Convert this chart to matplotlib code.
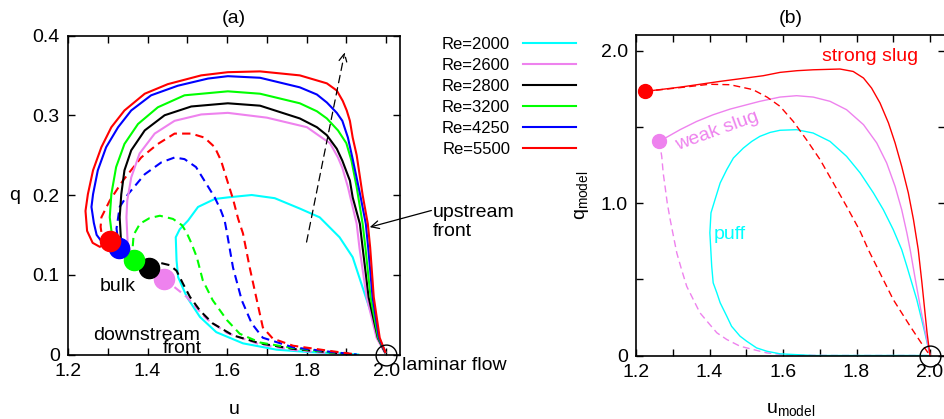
import numpy as np
import matplotlib
matplotlib.use('Agg')
import matplotlib.pyplot as plt
from matplotlib.ticker import MultipleLocator, FuncFormatter

# ---- panel (a): simulation, one solid (upstream) and one dashed (downstream) branch per Re
Re = ['2000', '2600', '2800', '3200', '4250', '5500']
cols = ['#00ffff', '#ee82ee', '#000000', '#00ff00', '#0000ff', '#ff0000']

# Re=2000 puff, single curve
u_2000 = [1.93, 1.90, 1.808, 1.725, 1.64, 1.573, 1.532, 1.499, 1.477, 1.473, 1.471, 1.481, 1.502,
          1.527, 1.569, 1.602, 1.662, 1.72, 1.783, 1.833, 1.883, 1.916, 1.941, 1.963, 1.979, 1.99, 1.998]
q_2000 = [0.0, 0.001, 0.003, 0.006, 0.014, 0.028, 0.047, 0.072, 0.097, 0.118, 0.147, 0.157, 0.168,
          0.185, 0.195, 0.197, 0.200, 0.196, 0.183, 0.172, 0.147, 0.122, 0.084, 0.051, 0.021, 0.011, 0.003]

u_2600 = [1.441, 1.40, 1.365, 1.350, 1.347, 1.349, 1.359, 1.38, 1.418, 1.468, 1.535, 1.602, 1.7,
          1.801, 1.841, 1.859, 1.879, 1.89, 1.904, 1.914, 1.926, 1.933, 1.951, 1.976, 1.996]
q_2600 = [0.095, 0.104, 0.117, 0.140, 0.172, 0.193, 0.222, 0.252, 0.277, 0.293, 0.301, 0.303, 0.297,
          0.285, 0.271, 0.265, 0.247, 0.234, 0.21, 0.189, 0.164, 0.134, 0.072, 0.021, 0.003]
u_2600d = [1.441, 1.469, 1.499, 1.52, 1.55, 1.60, 1.68, 1.76, 1.85, 1.91]
q_2600d = [0.095, 0.084, 0.072, 0.06, 0.044, 0.027, 0.013, 0.006, 0.002, 0.0]

u_2800 = [1.404, 1.37, 1.342, 1.333, 1.33, 1.334, 1.342, 1.359, 1.393, 1.443, 1.51, 1.602, 1.683,
          1.783, 1.826, 1.851, 1.876, 1.89, 1.909, 1.916, 1.934, 1.941, 1.956, 1.979, 1.997]
q_2800 = [0.108, 0.114, 0.125, 0.145, 0.172, 0.201, 0.231, 0.256, 0.281, 0.300, 0.311, 0.315, 0.312,
          0.296, 0.285, 0.275, 0.258, 0.243, 0.218, 0.197, 0.164, 0.134, 0.072, 0.021, 0.003]
u_2800d = [1.404, 1.431, 1.456, 1.473, 1.489, 1.507, 1.532, 1.564, 1.615, 1.683, 1.766, 1.851, 1.92]
q_2800d = [0.108, 0.115, 0.112, 0.105, 0.089, 0.072, 0.055, 0.039, 0.024, 0.014, 0.007, 0.003, 0.0]

u_3200 = [1.366, 1.335, 1.31, 1.305, 1.309, 1.321, 1.342, 1.376, 1.426, 1.493, 1.602, 1.683, 1.783,
          1.826, 1.851, 1.879, 1.9, 1.913, 1.926, 1.941, 1.948, 1.961, 1.980, 1.998]
q_3200 = [0.119, 0.135, 0.152, 0.172, 0.201, 0.235, 0.264, 0.289, 0.310, 0.325, 0.330, 0.327, 0.315,
          0.305, 0.296, 0.281, 0.265, 0.243, 0.21, 0.164, 0.134, 0.072, 0.021, 0.003]
u_3200d = [1.366, 1.362, 1.365, 1.381, 1.405, 1.431, 1.464, 1.487, 1.499, 1.51, 1.524, 1.539, 1.564,
           1.6, 1.632, 1.683, 1.766, 1.89]
q_3200d = [0.119, 0.13, 0.150, 0.164, 0.171, 0.174, 0.170, 0.162, 0.152, 0.14, 0.122, 0.093, 0.068,
           0.043, 0.026, 0.015, 0.008, 0.001]

u_4250 = [1.328, 1.29, 1.272, 1.265, 1.259, 1.263, 1.275, 1.296, 1.326, 1.359, 1.409, 1.476, 1.552,
          1.602, 1.683, 1.783, 1.826, 1.851, 1.876, 1.89, 1.904, 1.916, 1.935, 1.949, 1.955, 1.966,
          1.982, 1.998]
q_4250 = [0.134, 0.138, 0.150, 0.165, 0.185, 0.201, 0.231, 0.260, 0.285, 0.306, 0.325, 0.337, 0.346,
          0.349, 0.347, 0.335, 0.326, 0.316, 0.303, 0.293, 0.272, 0.245, 0.2, 0.164, 0.134, 0.072,
          0.021, 0.003]
u_4250d = [1.328, 1.322, 1.33, 1.351, 1.393, 1.435, 1.468, 1.493, 1.522, 1.543, 1.569, 1.585, 1.594,
           1.6, 1.615, 1.637, 1.662, 1.69, 1.766, 1.866, 1.926]
q_4250d = [0.134, 0.158, 0.185, 0.201, 0.226, 0.241, 0.247, 0.245, 0.235, 0.218, 0.197, 0.180, 0.168,
           0.152, 0.109, 0.068, 0.039, 0.021, 0.009, 0.003, 0.0]

u_5500 = [1.306, 1.28, 1.262, 1.248, 1.244, 1.25, 1.263, 1.284, 1.309, 1.342, 1.393, 1.451, 1.535,
          1.602, 1.683, 1.783, 1.851, 1.876, 1.891, 1.901, 1.909, 1.916, 1.926, 1.941, 1.954, 1.960,
          1.969, 1.984, 1.998]
q_5500 = [0.142, 0.135, 0.140, 0.155, 0.180, 0.201, 0.231, 0.260, 0.285, 0.306, 0.327, 0.339, 0.350,
          0.354, 0.355, 0.350, 0.340, 0.331, 0.318, 0.306, 0.293, 0.272, 0.25, 0.2, 0.164, 0.134,
          0.072, 0.021, 0.003]
u_5500d = [1.306, 1.285, 1.282, 1.284, 1.305, 1.338, 1.384, 1.426, 1.468, 1.51, 1.543, 1.569, 1.585,
           1.598, 1.615, 1.628, 1.64, 1.657, 1.675, 1.69, 1.715, 1.766, 1.851, 1.926]
q_5500d = [0.142, 0.150, 0.160, 0.172, 0.193, 0.218, 0.247, 0.264, 0.277, 0.277, 0.272, 0.260, 0.243,
           0.222, 0.195, 0.170, 0.152, 0.109, 0.068, 0.034, 0.020, 0.011, 0.005, 0.0]

# bulk points (same order as Re, 2000 has none)
u_bulk = [1.441, 1.404, 1.366, 1.328, 1.306]
q_bulk = [0.095, 0.108, 0.119, 0.134, 0.142]

# ---- panel (b): model
ub_strong = [1.2245, 1.32, 1.429, 1.546, 1.592, 1.638, 1.682, 1.755, 1.791, 1.819, 1.841, 1.864, 1.887,
             1.905, 1.923, 1.941, 1.955, 1.968, 1.978, 1.992, 2.0]
qb_strong = [1.733, 1.761, 1.799, 1.836, 1.858, 1.869, 1.875, 1.880, 1.864, 1.821, 1.755, 1.657, 1.526,
             1.395, 1.241, 1.067, 0.892, 0.695, 0.478, 0.149, 0.0]
ub_strong_d = [1.2245, 1.32, 1.40, 1.456, 1.518, 1.557, 1.592, 1.628, 1.664, 1.701, 1.737, 1.773, 1.81,
               1.832, 1.86, 1.9, 1.946, 1.982, 2.0]
qb_strong_d = [1.733, 1.758, 1.78, 1.777, 1.745, 1.695, 1.635, 1.536, 1.416, 1.285, 1.132, 0.979, 0.815,
               0.695, 0.56, 0.367, 0.192, 0.061, 0.0]
ub_weak = [1.2635, 1.32, 1.365, 1.41, 1.456, 1.502, 1.537, 1.592, 1.637, 1.682, 1.728, 1.773, 1.819,
           1.855, 1.882, 1.905, 1.923, 1.937, 1.946, 1.96, 1.975, 1.99, 2.0]
qb_weak = [1.405, 1.482, 1.536, 1.58, 1.617, 1.646, 1.668, 1.696, 1.705, 1.696, 1.668, 1.613, 1.515,
           1.395, 1.264, 1.110, 0.957, 0.805, 0.695, 0.5, 0.3, 0.12, 0.0]
ub_weak_d = [1.2635, 1.27, 1.274, 1.279, 1.285, 1.293, 1.302, 1.311, 1.324, 1.338, 1.356, 1.374, 1.397,
             1.42, 1.447, 1.483, 1.519, 1.556, 1.6, 1.637, 1.75, 1.9, 2.0]
qb_weak_d = [1.405, 1.307, 1.198, 1.11, 1.001, 0.892, 0.782, 0.673, 0.564, 0.454, 0.367, 0.28, 0.214,
             0.149, 0.105, 0.061, 0.039, 0.017, 0.006, 0.002, 0.0, 0.0, 0.0]
ub_puff = [2.0, 1.9, 1.8, 1.683, 1.592, 1.556, 1.528, 1.501, 1.483, 1.46, 1.447, 1.429, 1.42, 1.41,
           1.406, 1.401, 1.404, 1.415, 1.429, 1.447, 1.465, 1.492, 1.515, 1.537, 1.565, 1.592, 1.637,
           1.682, 1.728, 1.773, 1.81, 1.846, 1.873, 1.90, 1.923, 1.937, 1.964, 1.986, 2.0]
qb_puff = [0.0, 0.0, 0.0, 0.0, 0.011, 0.028, 0.05, 0.094, 0.127, 0.192, 0.258, 0.346, 0.411, 0.477,
           0.586, 0.805, 0.936, 1.023, 1.132, 1.22, 1.296, 1.361, 1.405, 1.438, 1.464, 1.478, 1.482,
           1.46, 1.405, 1.307, 1.198, 1.067, 0.957, 0.826, 0.695, 0.586, 0.367, 0.149, 0.0]


plt.rcParams['font.family'] = ['Liberation Sans', 'DejaVu Sans']
plt.rcParams['font.size'] = 14
plt.rcParams['mathtext.fontset'] = 'custom'
plt.rcParams['mathtext.rm'] = 'Liberation Sans'
plt.rcParams['axes.linewidth'] = 1.2

def fmt(v, p):
    if abs(v) < 1e-9:
        return '0'
    return '%.1f' % v

fig = plt.figure(figsize=(9.44, 4.19), dpi=100)
ax = fig.add_axes([68/944, 1-354.5/419, 332/944, 319/419])
ax2 = fig.add_axes([636/944, 1-355.5/419, 308.7/944, 320/419])

lw = 1.5
ax.plot(u_2000, q_2000, color=cols[0], lw=lw, label='Re=2000')
solid = [(u_2600, q_2600), (u_2800, q_2800), (u_3200, q_3200), (u_4250, q_4250), (u_5500, q_5500)]
dashed = [(u_2600d, q_2600d), (u_2800d, q_2800d), (u_3200d, q_3200d), (u_4250d, q_4250d), (u_5500d, q_5500d)]
for i in range(5):
    ax.plot(dashed[i][0], dashed[i][1], color=cols[i+1], lw=lw, dashes=(4, 2.5))
for i in range(5):
    ax.plot(solid[i][0], solid[i][1], color=cols[i+1], lw=lw, label='Re=' + Re[i+1])
for i in range(5):
    ax.plot(u_bulk[i], q_bulk[i], 'o', color=cols[i+1], ms=14.5, zorder=5)
ax.plot(2.0, 0.0, 'o', mfc='none', mec='k', ms=15, mew=1.0, clip_on=False, zorder=6)

ax.annotate('', xy=(1.896, 0.379), xytext=(1.80, 0.141),
            arrowprops=dict(arrowstyle='->', color='k', lw=0.9, linestyle=(0, (6, 4)), shrinkA=0, shrinkB=0))
ax.annotate('', xy=(1.959, 0.1597), xytext=(2.114, 0.1806), annotation_clip=False,
            arrowprops=dict(arrowstyle='->', color='k', lw=0.9, shrinkA=0, shrinkB=0))
ax.text(2.117, 0.173, 'upstream', ha='left', va='baseline', clip_on=False)
ax.text(2.117, 0.148, 'front', ha='left', va='baseline', clip_on=False)
ax.text(1.326, 0.080, 'bulk', ha='center', va='baseline')
ax.text(1.398, 0.0185, 'downstream', ha='center', va='baseline')
ax.text(1.488, 0.002, 'front', ha='center', va='baseline')
ax.text(2.039, -0.019, 'laminar flow', ha='left', va='baseline', clip_on=False)

ax.set_xlim(1.2, 2.035)
ax.set_ylim(0, 0.4)
ax.xaxis.set_major_locator(MultipleLocator(0.2))
ax.xaxis.set_minor_locator(MultipleLocator(0.1))
ax.yaxis.set_major_locator(MultipleLocator(0.1))
ax.xaxis.set_major_formatter(FuncFormatter(fmt))
ax.yaxis.set_major_formatter(FuncFormatter(fmt))
ax.tick_params(which='both', direction='in', top=True, right=True, length=5, width=1, pad=6)
ax.set_xlabel('u')
ax.xaxis.set_label_coords(0.5, -0.145)
ax.set_ylabel('q', rotation=0, va='center')
ax.yaxis.set_label_coords(-0.16, 0.5)
ax.set_title('(a)', fontsize=14, pad=9)

leg = ax.legend(loc='upper left', bbox_to_anchor=(442/944, 1-37/419), bbox_transform=fig.transFigure,
                frameon=False, markerfirst=False, fontsize=12, borderpad=0, labelspacing=0.36,
                handlelength=3.2, handletextpad=0.78, borderaxespad=0)

# panel (b)
lwb = 1.0
ax2.plot(ub_weak_d, qb_weak_d, color=cols[1], lw=lwb, dashes=(5, 3))
ax2.plot(ub_puff, qb_puff, color=cols[0], lw=lwb)
ax2.plot(ub_weak, qb_weak, color=cols[1], lw=lwb)
ax2.plot(ub_strong_d, qb_strong_d, color=cols[5], lw=lwb, dashes=(5, 3))
ax2.plot(ub_strong, qb_strong, color=cols[5], lw=lwb)
ax2.plot(ub_strong[0], qb_strong[0], 'o', color=cols[5], ms=10, zorder=5)
ax2.plot(ub_weak[0], qb_weak[0], 'o', color=cols[1], ms=10, zorder=5)
ax2.plot(2.0, 0.0, 'o', mfc='none', mec='k', ms=15, mew=1.0, clip_on=False, zorder=6)

ax2.text(1.837, 1.93, 'strong slug', color=cols[5], ha='center', va='baseline')
ax2.text(1.42, 1.471, 'weak slug', color=cols[1], ha='center', va='center', rotation=20)
ax2.text(1.456, 0.793, 'puff', color=cols[0], ha='center', va='center')

ax2.set_xlim(1.2, 2.04)
ax2.set_ylim(0, 2.1)
ax2.xaxis.set_major_locator(MultipleLocator(0.2))
ax2.xaxis.set_minor_locator(MultipleLocator(0.1))
ax2.yaxis.set_major_locator(MultipleLocator(1.0))
ax2.yaxis.set_minor_locator(MultipleLocator(0.5))
ax2.xaxis.set_major_formatter(FuncFormatter(fmt))
ax2.yaxis.set_major_formatter(FuncFormatter(fmt))
ax2.tick_params(which='both', direction='in', top=True, right=True, length=5, width=1, pad=6)
ax2.set_xlabel(r'u$_{\mathrm{model}}$')
ax2.xaxis.set_label_coords(0.5, -0.145)
ax2.set_ylabel(r'q$_{\mathrm{model}}$')
ax2.yaxis.set_label_coords(-0.145, 0.5)
ax2.set_title('(b)', fontsize=14, pad=9)

fig.savefig('out.png', dpi=100)
